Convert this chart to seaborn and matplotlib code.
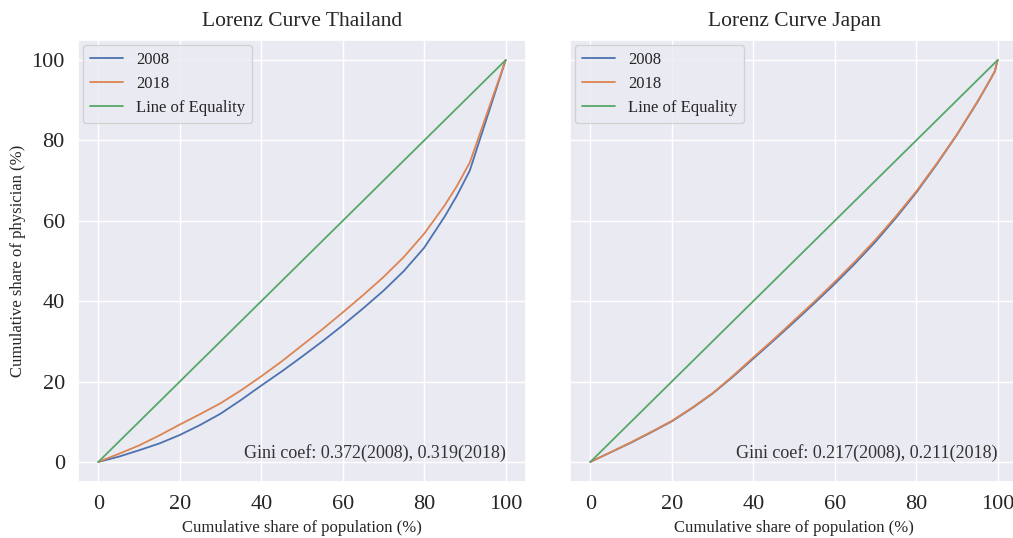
import matplotlib
matplotlib.use("Agg")
import matplotlib.pyplot as plt
import seaborn as sns

# cumulative share of population (%) and of physicians (%)
th_x = [0, 5, 10, 15, 20, 25, 30, 35, 40, 45, 50, 55, 60, 65, 70, 75, 80, 85, 88, 91.2, 100]
th_2008 = [0, 1.3, 2.9, 4.6, 6.7, 9.2, 12.0, 15.4, 19.0, 22.5, 26.2, 30.0, 34.0, 38.2,
           42.6, 47.5, 53.3, 61.0, 66.2, 72.5, 100]
th_2018 = [0, 2.0, 4.1, 6.6, 9.3, 11.9, 14.6, 17.8, 21.3, 25.0, 29.0, 33.0, 37.2, 41.5,
           46.0, 51.0, 56.8, 63.8, 68.6, 74.5, 100]

jp_x = [0, 5, 10, 15, 20, 25, 30, 35, 40, 45, 50, 55, 60, 65, 70, 75, 80, 85, 90, 95, 98, 99.3, 100]
jp_2008 = [0, 2.4, 4.8, 7.4, 10.1, 13.4, 17.0, 21.2, 25.7, 30.2, 34.8, 39.5, 44.3, 49.4,
           54.8, 60.7, 67.0, 74.0, 81.4, 89.5, 94.8, 97.2, 100]
jp_2018 = [0, 2.4, 4.9, 7.5, 10.2, 13.5, 17.1, 21.4, 26.0, 30.5, 35.2, 39.9, 44.8, 49.9,
           55.3, 61.1, 67.3, 74.2, 81.5, 89.6, 94.8, 97.2, 100]

equality = [0, 100]
gini_th = "Gini coef: 0.372(2008), 0.319(2018)"
gini_jp = "Gini coef: 0.217(2008), 0.211(2018)"

sns.set_theme(style="darkgrid")
plt.rcParams["font.family"] = ["Liberation Serif", "DejaVu Serif"]
colors = sns.color_palette("deep")

fig = plt.figure(figsize=(10.13, 5.38), dpi=100)
ax1 = fig.add_axes([78 / 1013, 56 / 538, 448 / 1013, 442 / 538])
ax2 = fig.add_axes([570 / 1013, 56 / 538, 448 / 1013, 442 / 538])


def draw(ax, x, y08, y18, title, gini):
    sns.lineplot(x=x, y=y08, ax=ax, color=colors[0], label="2008", linewidth=1.3)
    sns.lineplot(x=x, y=y18, ax=ax, color=colors[1], label="2018", linewidth=1.3)
    sns.lineplot(x=equality, y=equality, ax=ax, color=colors[2],
                 label="Line of Equality", linewidth=1.3)
    ax.set_xlim(-5, 105)
    ax.set_ylim(-5, 105)
    ax.set_xticks(range(0, 101, 20))
    ax.set_yticks(range(0, 101, 20))
    ax.tick_params(labelsize=16)
    ax.set_title(title, fontsize=15.5, pad=10)
    ax.set_xlabel("Cumulative share of population (%)", fontsize=12)
    ax.text(100, 0, gini, ha="right", va="bottom", fontsize=13, color="#333333")
    ax.legend(loc="upper left", fontsize=12, borderaxespad=0.3)


draw(ax1, th_x, th_2008, th_2018, "Lorenz Curve Thailand", gini_th)
draw(ax2, jp_x, jp_2008, jp_2018, "Lorenz Curve Japan", gini_jp)
ax1.set_ylabel("Cumulative share of physician (%)", fontsize=12)
ax2.set_yticklabels([])

fig.savefig("out.png", dpi=100)
